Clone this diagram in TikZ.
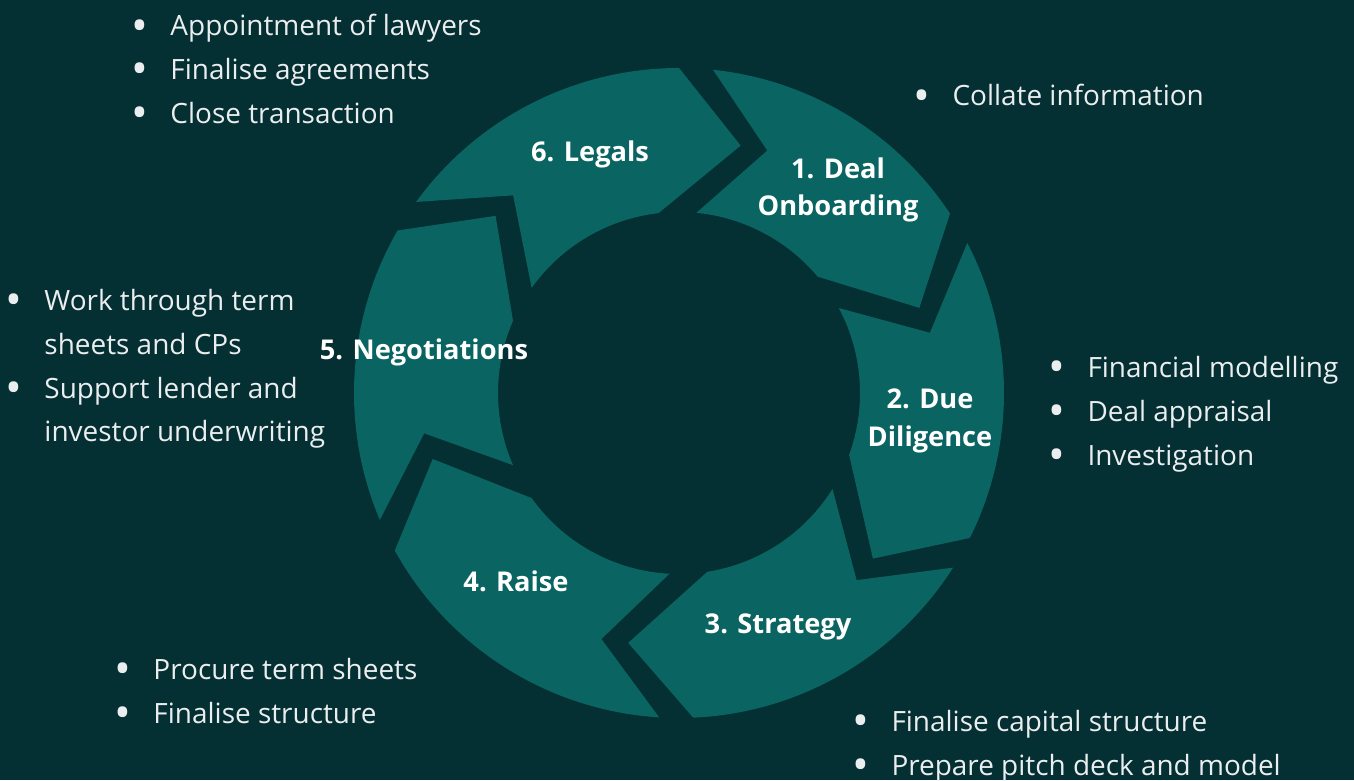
\documentclass[tikz,border=0pt]{standalone}
\usepackage{fontspec}
\usepackage{graphicx}
\setmainfont{Open Sans}
\definecolor{bgdark}{RGB}{4,47,51}
\definecolor{ringteal}{RGB}{10,100,98}
\newcommand{\taskdot}{\makebox[0pt][c]{\raisebox{-0.19em}{\scalebox{1.6}{•}}}}
\newcommand{\taskitem}[1]{\makebox[20pt][l]{\hspace*{2.8pt}\taskdot}#1}
\newcommand{\taskcont}[1]{\hspace*{20pt}#1}

\begin{document}
\begin{tikzpicture}[x=0.02cm,y=0.02cm]
  \tikzstyle{stage}=[text=white,font=\bfseries\fontsize{15.5}{21.5}\selectfont,align=center,inner sep=0pt]
  \tikzstyle{tasks}=[text=white!92!bgdark,font=\fontsize{15.9}{24.9}\selectfont,align=left,anchor=north west,inner sep=0pt]
  \fill[bgdark] (0,0) rectangle (1354,780);
  \useasboundingbox (0,0) rectangle (1354,780);

  % ring of six arrows, tail gap at \t, head gap at \h
  \begin{scope}[shift={(679,387)}]
    \foreach \t/\h in {90/33.5, 33.5/-26.5, -26.5/-87.5, -87.5/-151, -151/-210, 150/90}{
      \fill[ringteal] (\t-6:325) arc[start angle=\t-6, end angle=\h, radius=325]
        -- (\h-14:255) -- (\h+6.5:181)
        arc[start angle=\h+6.5, end angle=\t-5.5, radius=181]
        -- (\t-20:258) -- cycle;
    }
  \end{scope}

  \node[stage] (S_1) at (838,590) {1. Deal\\Onboarding};
  \node[stage] (S_2) at (930,359) {2. Due\\Diligence};
  \node[stage] (S_3) at (778,153) {3. Strategy};
  \node[stage] (S_4) at (516,199) {4. Raise};
  \node[stage] (S_5) at (424,428) {5. Negotiations};
  \node[stage] (S_6) at (590,626) {6. Legals};

  \node[tasks] (T_1) at (917,696) {\taskitem{Collate information}};
  \node[tasks] (T_2) at (1052,424) {\taskitem{Financial modelling}\\
    \taskitem{Deal appraisal}\\\taskitem{Investigation}};
  \node[tasks] (T_3) at (856,70) {\taskitem{Finalise capital structure}\\
    \taskitem{Prepare pitch deck and model}};
  \node[tasks] (T_4) at (118,122) {\taskitem{Procure term sheets}\\
    \taskitem{Finalise structure}};
  \node[tasks] (T_5) at (9,491) {\taskitem{Work through term}\\
    \taskcont{sheets and CPs}\\\taskitem{Support lender and}\\
    \taskcont{investor underwriting}};
  \node[tasks] (T_6) at (135,766) {\taskitem{Appointment of lawyers}\\
    \taskitem{Finalise agreements}\\\taskitem{Close transaction}};

\end{tikzpicture}
\end{document}
